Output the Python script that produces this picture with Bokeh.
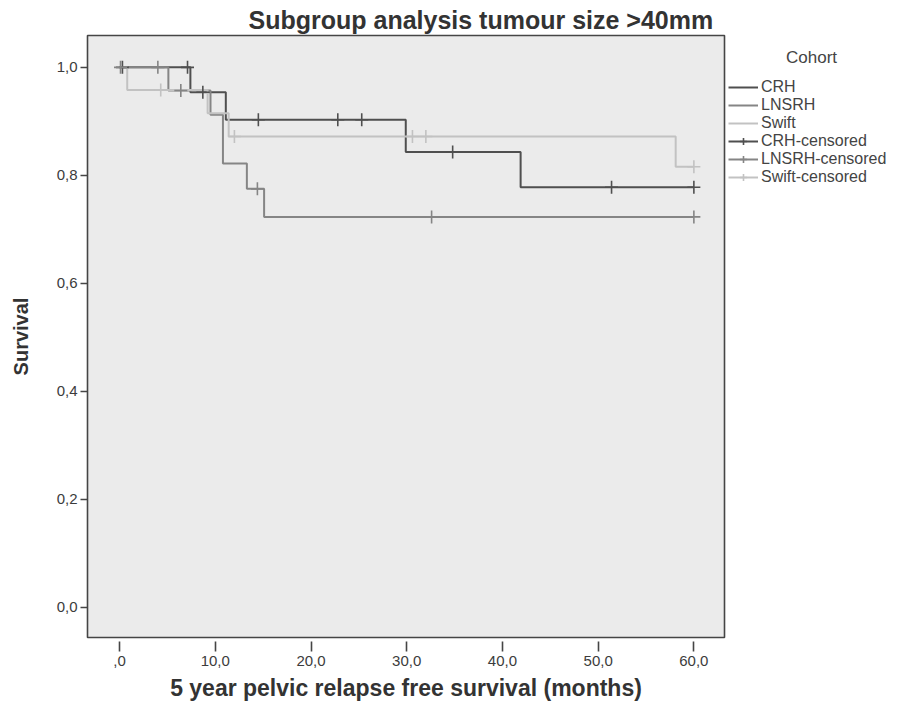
import numpy as np
from bokeh.plotting import figure
from bokeh.layouts import row
from bokeh.models import (Range1d, Legend, LegendItem, FixedTicker, Label,
                          CustomJSTickFormatter)
from bokeh.embed import file_html
from bokeh.resources import INLINE

# ---- data ----
crh_time = [0.0, 7.4, 11.1, 29.9, 41.9, 60.0]
crh_surv = [1.0, 0.954, 0.903, 0.843, 0.778, 0.778]
crh_cens = [0.3, 7.1, 8.7, 14.5, 22.8, 25.3, 34.8, 51.4, 60.0]

lnsrh_time = [0.0, 5.1, 9.5, 10.8, 13.3, 15.1, 60.0]
lnsrh_surv = [1.0, 0.957, 0.912, 0.822, 0.775, 0.723, 0.723]
lnsrh_cens = [0.1, 4.0, 6.4, 14.4, 32.6, 60.0]

swift_time = [0.0, 0.8, 9.2, 11.4, 58.1, 60.0]
swift_surv = [1.0, 0.958, 0.915, 0.872, 0.816, 0.816]
swift_cens = [4.3, 12.0, 30.6, 32.0, 60.0]

x_ticks = [0, 10, 20, 30, 40, 50, 60]
y_ticks = [0.0, 0.2, 0.4, 0.6, 0.8, 1.0]

cohorts = ["CRH", "LNSRH", "Swift"]
colors = ["#4f4f4f", "#858585", "#c2c2c2"]


def surv_at(t, times, surv):
    idx = np.searchsorted(times, t, side="right") - 1
    return [surv[i] for i in idx]


FONT = "Liberation Sans"
H = 704

p = figure(width=728, height=H, output_backend="svg", toolbar_location=None,
           x_range=Range1d(-3.35, 63.2), y_range=Range1d(-0.056, 1.059),
           min_border_left=87, min_border_right=4, min_border_top=35,
           min_border_bottom=67)
p.background_fill_color = "#ebebeb"
p.border_fill_color = "white"
p.outline_line_color = "#454545"
p.outline_line_width = 1.6
p.xgrid.visible = False
p.ygrid.visible = False

p.title.text = "Subgroup analysis tumour size >40mm"
p.title.align = "left"
p.title.offset = 161
p.title.standoff = 3
p.title.text_font = FONT
p.title.text_font_style = "bold"
p.title.text_font_size = "25px"
p.title.text_color = "#333333"

data = [(crh_time, crh_surv, crh_cens), (lnsrh_time, lnsrh_surv, lnsrh_cens),
        (swift_time, swift_surv, swift_cens)]
for (t, s, c), col in zip(data, colors):
    p.step(x=t, y=s, mode="after", line_color=col, line_width=2)
for (t, s, c), col in zip(data, colors):
    p.scatter(x=c, y=surv_at(c, t, s), marker="cross",
              size=13, line_color=col, line_width=1.6)

# axes
p.xaxis.ticker = FixedTicker(ticks=x_ticks)
p.yaxis.ticker = FixedTicker(ticks=y_ticks)
p.xaxis.formatter = CustomJSTickFormatter(
    code="return tick == 0 ? ',0' : tick.toFixed(1).replace('.', ',');")
p.yaxis.formatter = CustomJSTickFormatter(
    code="return tick.toFixed(1).replace('.', ',');")
for ax in (p.xaxis, p.yaxis):
    ax.axis_line_color = None
    ax.major_tick_line_color = "#454545"
    ax.major_tick_line_width = 1.6
    ax.minor_tick_line_color = None
    ax.major_label_text_font = FONT
    ax.major_label_text_font_size = "15px"
    ax.major_label_text_color = "#3c3c3c"
    ax.axis_label_text_font = FONT
    ax.axis_label_text_font_style = "bold"
    ax.axis_label_text_color = "#333333"
p.xaxis.axis_label_text_font_size = "23px"
p.yaxis.axis_label_text_font_size = "20px"
p.xaxis.major_tick_in = -4
p.xaxis.major_tick_out = 14
p.xaxis.major_label_standoff = 4
p.xaxis.axis_label_standoff = 6
p.yaxis.major_tick_in = 0
p.yaxis.major_tick_out = 7
p.yaxis.major_label_standoff = 3
p.yaxis.axis_label_standoff = 22
p.xaxis.axis_label = "5 year pelvic relapse free survival (months)"
p.yaxis.axis_label = "Survival"

# ---- legend panel (separate figure to the right of the plot) ----
# Its ranges lie away from the data, so its proxy glyphs only show in the legend.
LW = 159
q = figure(width=LW, height=H, output_backend="svg", toolbar_location=None,
           x_axis_type=None, y_axis_type=None, min_border=0,
           x_range=Range1d(-20, -10), y_range=Range1d(-20, -10))
q.outline_line_color = None
q.background_fill_color = "white"
q.border_fill_color = "white"
q.xgrid.visible = False
q.ygrid.visible = False

items = []
lines = []
for name, (t, s, c), col in zip(cohorts, data, colors):
    r = q.step(x=t, y=s, mode="after", line_color=col, line_width=2)
    lines.append(r)
    items.append(LegendItem(label=name, renderers=[r]))
for name, (t, s, c), col, r in zip(cohorts, data, colors, lines):
    m = q.scatter(x=c, y=surv_at(c, t, s), marker="cross", size=13,
                  line_color=col, line_width=1.6)
    items.append(LegendItem(label=name + "-censored", renderers=[r, m]))

# the legend figure's frame is aligned with the main frame (y = 35 .. 637)
FB = 637
legend = Legend(items=items, location=(0, FB - 186), orientation="vertical",
                padding=0, spacing=0, margin=0, glyph_width=30,
                glyph_height=18, label_height=18, label_standoff=3,
                label_text_font=FONT, label_text_font_size="16px",
                label_text_color="#444444", border_line_color=None,
                background_fill_alpha=0)
q.add_layout(legend)

q.add_layout(Label(x=83, y=FB - 57, x_units="screen", y_units="screen",
                   text="Cohort", text_align="center", text_baseline="middle",
                   text_font=FONT, text_font_size="17px",
                   text_color="#444444"))

open("out.html", "w").write(file_html(row(p, q), INLINE))
